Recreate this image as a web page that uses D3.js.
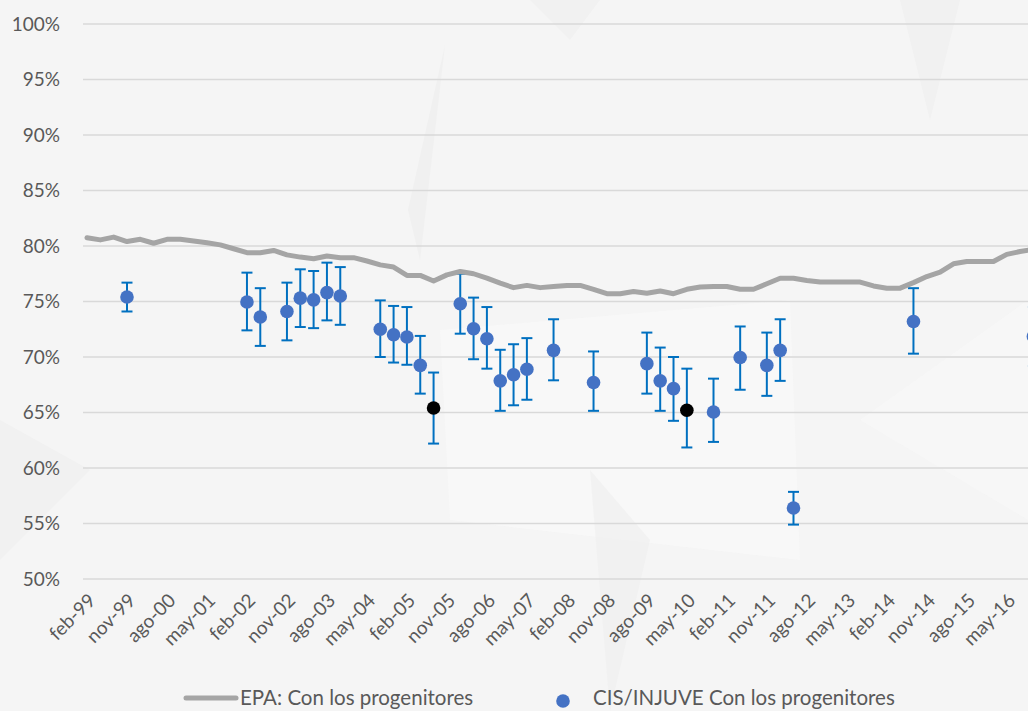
<!DOCTYPE html>
<html>
<head>
<meta charset="utf-8">
<script src="https://cdn.jsdelivr.net/npm/d3@7"></script>
<style>
  html, body { margin: 0; padding: 0; background: #f5f5f5; overflow: hidden; }
  svg { display: block; }
  text { font-family: Lato, "Open Sans", sans-serif; fill: #595959; }
</style>
</head>
<body>
<svg id="chart" width="1028" height="711"></svg>
<script>
// ---------- DATA ----------
const quarterMonths = ["feb", "may", "ago", "nov"];
const firstYear = 1999;
const quarterCount = 73; // feb-99 ... feb-17

const tickLabels = ["feb-99","nov-99","ago-00","may-01","feb-02","nov-02","ago-03","may-04",
  "feb-05","nov-05","ago-06","may-07","feb-08","nov-08","ago-09","may-10","feb-11","nov-11",
  "ago-12","may-13","feb-14","nov-14","ago-15","may-16"];

const yTicks = [50, 55, 60, 65, 70, 75, 80, 85, 90, 95, 100];

// EPA: Con los progenitores (quarterly, from feb-99)
const epaValues = [80.75, 80.55, 80.8, 80.4, 80.6, 80.25, 80.6, 80.6, 80.45, 80.3,
  80.1, 79.75, 79.4, 79.4, 79.6, 79.2, 79.0, 78.85, 79.1, 78.95,
  78.95, 78.65, 78.3, 78.1, 77.35, 77.35, 76.85, 77.4, 77.7, 77.5,
  77.1, 76.65, 76.25, 76.45, 76.25, 76.35, 76.45, 76.45, 76.1, 75.7,
  75.7, 75.9, 75.75, 75.95, 75.7, 76.1, 76.3, 76.35, 76.35, 76.1,
  76.1, 76.6, 77.1, 77.1, 76.9, 76.75, 76.75, 76.75, 76.75, 76.4,
  76.2, 76.2, 76.7, 77.25, 77.65, 78.4, 78.6, 78.6, 78.6, 79.25,
  79.5, 79.7];

// CIS/INJUVE Con los progenitores
const cisDates  = ["nov-99","feb-02","may-02","nov-02","feb-03","may-03","ago-03","nov-03",
  "ago-04","nov-04","feb-05","may-05","ago-05","feb-06","may-06","ago-06","nov-06","feb-07",
  "may-07","nov-07","ago-08","ago-09","nov-09","feb-10","may-10","nov-10","may-11","nov-11",
  "feb-12","may-12","ago-14","nov-16"];
const cisValues = [75.4, 74.95, 73.6, 74.1, 75.3, 75.15, 75.8, 75.5,
  72.5, 72.0, 71.8, 69.25, 65.4, 74.8, 72.55, 71.65, 67.85, 68.4,
  68.9, 70.6, 67.7, 69.4, 67.85, 67.15, 65.2, 65.05, 69.95, 69.25,
  70.6, 56.4, 73.2, 71.85];
const cisLow  = [74.1, 72.4, 71.0, 71.5, 72.7, 72.6, 73.3, 72.9,
  70.0, 69.5, 69.3, 66.7, 62.2, 72.1, 69.8, 68.95, 65.15, 65.65,
  66.15, 67.9, 65.15, 66.7, 65.15, 64.25, 61.85, 62.35, 67.05, 66.5,
  67.85, 54.9, 70.3, 69.2];
const cisHigh = [76.7, 77.6, 76.2, 76.7, 77.9, 77.75, 78.5, 78.1,
  75.1, 74.6, 74.5, 71.9, 68.6, 77.5, 75.35, 74.5, 70.65, 71.15,
  71.7, 73.4, 70.5, 72.2, 70.85, 70.0, 68.95, 68.05, 72.75, 72.2,
  73.4, 57.85, 76.2, 74.5];
const highlightDates = ["ago-05", "may-10"];

const legendLabels = ["EPA: Con los progenitores", "CIS/INJUVE Con los progenitores"];

// ---------- CHART ----------
const categories = d3.range(quarterCount).map(q =>
  quarterMonths[q % 4] + "-" + String((firstYear + Math.floor(q / 4)) % 100).padStart(2, "0"));

const svg = d3.select("#chart");
const W = 1028, H = 711;
const plotLeft = 83, plotRight = 1028, plotTop = 24, plotBottom = 579;
const step = 13.33;

// faint decorative background shapes
const bg = svg.append("g");
bg.append("rect").attr("width", W).attr("height", H).attr("fill", "#f5f5f5");
const shapes = [
  {p: "440,330 790,300 800,560 450,520", c: "#fafafa"},
  {p: "445,45 408,210 420,260", c: "#ececec"},
  {p: "530,0 600,0 570,40", c: "#eeeeee"},
  {p: "900,0 960,0 930,120", c: "#eeeeee"},
  {p: "590,470 650,540 610,711", c: "#efefef"},
  {p: "0,420 90,470 0,560", c: "#eeeeee"},
  {p: "860,420 1028,300 1028,520", c: "#f8f8f8"}
];
bg.selectAll("polygon").data(shapes).join("polygon")
  .attr("points", d => d.p).attr("fill", d => d.c).attr("opacity", 0.6);

const x = d3.scalePoint().domain(categories)
  .range([87, 87 + step * (quarterCount - 1)]);
const y = d3.scaleLinear().domain([50, 100]).range([plotBottom, plotTop]);

// gridlines
svg.append("g").selectAll("line").data(yTicks).join("line")
  .attr("x1", plotLeft).attr("x2", plotRight)
  .attr("y1", d => y(d)).attr("y2", d => y(d))
  .attr("stroke", "#d9d9d9").attr("stroke-width", 1.5);

// y labels
const yAxis = d3.axisLeft(y).tickValues(yTicks).tickFormat(d => d + "%").tickSize(0).tickPadding(0);
const gy = svg.append("g").attr("transform", "translate(60,0)").call(yAxis);
gy.select(".domain").remove();
gy.selectAll("text").attr("font-size", 19).attr("fill", "#595959")
  .style("font-family", "Lato, 'Open Sans', sans-serif");

// x labels
const gx = svg.append("g");
gx.selectAll("text").data(tickLabels).join("text")
  .attr("transform", d => `translate(${x(d) + 5},${597}) rotate(-45)`)
  .attr("text-anchor", "end")
  .attr("dy", "0.35em")
  .attr("font-size", 19)
  .text(d => d);

const cis = cisDates.map((d, i) => ({date: d, v: cisValues[i], lo: cisLow[i], hi: cisHigh[i],
  black: highlightDates.includes(d)}));

// error bars
const eb = svg.append("g").attr("stroke", "#0070c0").attr("stroke-width", 2);
eb.selectAll("line.v").data(cis).join("line").attr("class", "v")
  .attr("x1", d => x(d.date)).attr("x2", d => x(d.date))
  .attr("y1", d => y(d.lo)).attr("y2", d => y(d.hi));
eb.selectAll("line.t").data(cis).join("line").attr("class", "t")
  .attr("x1", d => x(d.date) - 5.5).attr("x2", d => x(d.date) + 5.5)
  .attr("y1", d => y(d.hi)).attr("y2", d => y(d.hi));
eb.selectAll("line.b").data(cis).join("line").attr("class", "b")
  .attr("x1", d => x(d.date) - 5.5).attr("x2", d => x(d.date) + 5.5)
  .attr("y1", d => y(d.lo)).attr("y2", d => y(d.lo));

// EPA line
const line = d3.line().x((d, i) => x(categories[i])).y(d => y(d));
svg.append("path").datum(epaValues)
  .attr("d", line).attr("fill", "none")
  .attr("stroke", "#a5a5a5").attr("stroke-width", 5)
  .attr("stroke-linejoin", "round").attr("stroke-linecap", "round");

// points
svg.append("g").selectAll("circle").data(cis).join("circle")
  .attr("cx", d => x(d.date)).attr("cy", d => y(d.v)).attr("r", 6.8)
  .attr("fill", d => d.black ? "#000000" : "#4472c4");

// legend
const lg = svg.append("g");
lg.append("line").attr("x1", 186).attr("x2", 236).attr("y1", 698).attr("y2", 698)
  .attr("stroke", "#a5a5a5").attr("stroke-width", 5).attr("stroke-linecap", "round");
lg.append("text").attr("x", 240).attr("y", 705).attr("font-size", 20.5).text(legendLabels[0]);
lg.append("circle").attr("cx", 563).attr("cy", 701).attr("r", 6.8).attr("fill", "#4472c4");
lg.append("text").attr("x", 593).attr("y", 705).attr("font-size", 20.5).text(legendLabels[1]);
</script>
</body>
</html>
